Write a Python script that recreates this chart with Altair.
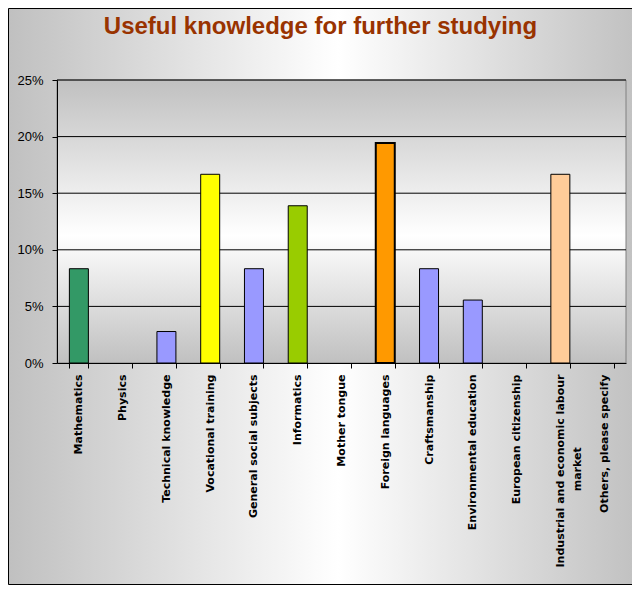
import altair as alt
import pandas as pd

# ---- data ----
categories = [
    "Mathematics", "Physics", "Technical knowledge", "Vocational training",
    "General social subjects", "Informatics", "Mother tongue",
    "Foreign languages", "Craftsmanship", "Environmental education",
    "European citizenship", "Industrial and economic labour market",
    "Others, please specify",
]
values = [0.0833, 0.0, 0.0278, 0.1667, 0.0833, 0.1389, 0.0,
          0.1944, 0.0833, 0.0556, 0.0, 0.1667, 0.0]
bar_colors = ["#339966", "#9999FF", "#9999FF", "#FFFF00", "#9999FF", "#99CC00",
              "#9999FF", "#FF9900", "#9999FF", "#9999FF", "#9999FF", "#FFCC99",
              "#9999FF"]
y_ticks = [0.0, 0.05, 0.10, 0.15, 0.20, 0.25]
grid_values = [0.05, 0.10, 0.15, 0.20, 0.25]
wrapped_label = ["Industrial and economic labour", "market"]
title_text = "Useful knowledge for further studying"

# ---- layout ----
W, H = 569, 283
PAD_L, PAD_T, PAD_R, PAD_B = 49, 72, 6, 222

df = pd.DataFrame({"category": categories, "pct": values})
grid_df = pd.DataFrame({"pct": grid_values})
one = pd.DataFrame({"a": [1]})

nb = "\u00a0" * 19 + "\u200b"
label_expr = (
    f"datum.value == '{categories[11]}' ? "
    f"['{wrapped_label[0]}', '{wrapped_label[1]}{nb}'] : datum.label"
)

y_scale = alt.Scale(domain=[0, 0.25], nice=False, zero=True)
y_axis = alt.Axis(
    values=y_ticks, format=".0%", title=None, grid=False,
    domainColor="black", domainWidth=1, tickColor="black", tickSize=5,
    labelPadding=9, labelFont="Liberation Sans", labelFontSize=13,
    labelColor="black", zindex=1,
)
y_enc = alt.Y("pct:Q", scale=y_scale, axis=y_axis)

outer_grad = alt.Gradient(
    gradient="linear", x1=0, x2=1, y1=0, y2=0,
    stops=[alt.GradientStop(offset=0, color="#c0c0c0"),
           alt.GradientStop(offset=0.52, color="#ffffff"),
           alt.GradientStop(offset=1, color="#c0c0c0")],
)
plot_grad = alt.Gradient(
    gradient="linear", x1=0, x2=0, y1=0, y2=1,
    stops=[alt.GradientStop(offset=0, color="#c0c0c0"),
           alt.GradientStop(offset=0.55, color="#ffffff"),
           alt.GradientStop(offset=1, color="#c0c0c0")],
)

background = alt.Chart(one).mark_rect(
    fill=outer_grad, stroke="black", strokeWidth=1
).encode(
    x=alt.value(-PAD_L + 0.5), x2=alt.value(W + PAD_R + 10),
    y=alt.value(-PAD_T + 0.5), y2=alt.value(H + PAD_B - 0.5),
)

plot_bg = alt.Chart(one).mark_rect(
    fill=plot_grad, stroke="#808080", strokeWidth=1
).encode(
    x=alt.value(0), x2=alt.value(W), y=alt.value(0), y2=alt.value(H),
)

grid = alt.Chart(grid_df).mark_rule(color="black", strokeWidth=1).encode(
    y=y_enc, x=alt.value(0), x2=alt.value(W),
)

bars = alt.Chart(df).transform_filter("datum.pct > 0").mark_bar(
    stroke="black"
).encode(
    x=alt.X(
        "category:N", sort=categories,
        scale=alt.Scale(domain=categories, paddingInner=0.566, paddingOuter=0.283),
        axis=alt.Axis(
            title=None, labelAngle=-90, tickBand="extent",
            domainColor="black", domainWidth=1, tickColor="black", tickSize=5,
            labelPadding=6, labelFont="DejaVu Sans", labelFontSize=11,
            labelFontWeight="bold", labelColor="black", labelLimit=0,
            labelLineHeight=17, labelExpr=label_expr, zindex=1,
        ),
    ),
    y=y_enc,
    color=alt.Color("category:N", scale=alt.Scale(domain=categories, range=bar_colors),
                    legend=None),
    strokeWidth=alt.condition(f"datum.category == '{categories[7]}'",
                              alt.value(2), alt.value(1)),
)

chart = alt.layer(background, plot_bg, grid, bars).properties(
    width=W, height=H,
    autosize=alt.AutoSizeParams(type="none"),
    padding={"left": PAD_L, "top": PAD_T, "right": PAD_R, "bottom": PAD_B},
    title=alt.TitleParams(
        text=title_text, font="Liberation Sans", fontSize=24, fontWeight="bold",
        color="#993300", anchor="middle", dx=-21, offset=-49.5,
        baseline="alphabetic",
    ),
).configure_view(stroke=None).configure(background="white")

chart.save("out.html", embed_options={"renderer": "svg", "actions": False})
